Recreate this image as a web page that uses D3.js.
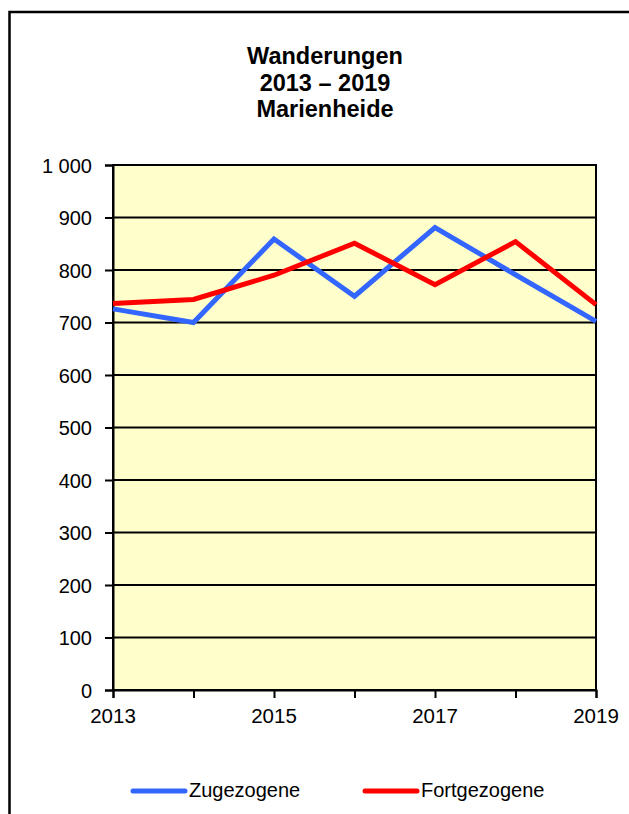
<!DOCTYPE html>
<html>
<head>
<meta charset="utf-8">
<script src="https://cdn.jsdelivr.net/npm/d3@7"></script>
<style>
  body { margin: 0; background: #fff; }
  text { font-family: "Liberation Sans", Arial, sans-serif; }
</style>
</head>
<body>
<div id="chart"></div>
<script>
// values
const years = [2013, 2014, 2015, 2016, 2017, 2018, 2019];
const zugezogene = [726, 700, 859, 750, 881, 791, 702];
const fortgezogene = [736, 744, 790, 851, 772, 854, 734];
const yTicks = [0, 100, 200, 300, 400, 500, 600, 700, 800, 900, 1000];
const xLabels = [2013, 2015, 2017, 2019];
const titleLines = ["Wanderungen", "2013 \u2013 2019", "Marienheide"];

const width = 629, height = 814;
const margin = {left: 113, right: 33, top: 165, bottom: 124};

let svg = d3.select("#chart").append("svg")
    .attr("width", width)
    .attr("height", height);

// outer frame (right and bottom run off the picture)
svg.append("rect")
    .attr("x", 9.5)
    .attr("y", 12)
    .attr("width", 640)
    .attr("height", 820)
    .attr("fill", "#fff")
    .attr("stroke", "#000")
    .attr("stroke-width", 2.5);

let x = d3.scaleLinear().domain([2013, 2019]).range([margin.left, width - margin.right]);
let y = d3.scaleLinear().domain([0, 1000]).range([height - margin.bottom, margin.top]);

// title
svg.append("g").selectAll("text")
    .data(titleLines)
    .enter()
    .append("text")
    .attr("x", 325)
    .attr("y", (d, i) => 64 + i * 26.5)
    .attr("text-anchor", "middle")
    .attr("font-size", 23.5)
    .attr("font-weight", "bold")
    .text(d => d);

// plot background
svg.append("rect")
    .attr("x", x(2013))
    .attr("y", y(1000))
    .attr("width", x(2019) - x(2013))
    .attr("height", y(0) - y(1000))
    .attr("fill", "#FFFFCC");

// gridlines
svg.append("g").selectAll("line")
    .data(yTicks.slice(1))
    .enter()
    .append("line")
    .attr("x1", x(2013))
    .attr("x2", x(2019))
    .attr("y1", d => y(d))
    .attr("y2", d => y(d))
    .attr("stroke", "#000")
    .attr("stroke-width", 2);

// plot border
svg.append("rect")
    .attr("x", x(2013))
    .attr("y", y(1000))
    .attr("width", x(2019) - x(2013))
    .attr("height", y(0) - y(1000))
    .attr("fill", "none")
    .attr("stroke", "#000")
    .attr("stroke-width", 2);

// y axis
let yAxis = svg.append("g")
    .attr("transform", "translate(" + x(2013) + ",0)")
    .call(d3.axisLeft(y).tickValues(yTicks).tickSize(8).tickPadding(13)
        .tickFormat(d => d3.format(",")(d).replace(",", " ")));
yAxis.select(".domain").attr("stroke-width", 2);
yAxis.selectAll(".tick line").attr("stroke-width", 2);
yAxis.selectAll("text").attr("font-size", 20).attr("fill", "#000")
    .attr("font-family", "Liberation Sans, Arial, sans-serif")
    .attr("dy", "0.36em");

// x axis
let xAxis = svg.append("g")
    .attr("transform", "translate(0," + y(0) + ")")
    .call(d3.axisBottom(x).tickValues(years).tickSize(8).tickFormat(""));
xAxis.select(".domain").attr("stroke-width", 2);
xAxis.selectAll(".tick line").attr("stroke-width", 2);

svg.append("g").selectAll("text")
    .data(xLabels)
    .enter()
    .append("text")
    .attr("x", d => x(d))
    .attr("y", y(0) + 33)
    .attr("text-anchor", "middle")
    .attr("font-size", 20.5)
    .text(d => d);

// lines
let line = d3.line()
    .x((d, i) => x(years[i]))
    .y(d => y(d));

svg.append("path")
    .datum(zugezogene)
    .attr("fill", "none")
    .attr("stroke", "#3366FF")
    .attr("stroke-width", 5)
    .attr("stroke-linejoin", "miter")
    .attr("d", line);

svg.append("path")
    .datum(fortgezogene)
    .attr("fill", "none")
    .attr("stroke", "#FF0000")
    .attr("stroke-width", 5)
    .attr("stroke-linejoin", "miter")
    .attr("d", line);

// legend
const legend = [
    {name: "Zugezogene", color: "#3366FF", x: 133},
    {name: "Fortgezogene", color: "#FF0000", x: 365}
];
let keyGroup = svg.append("g");
legend.forEach(function (k) {
    keyGroup.append("line")
        .attr("x1", k.x)
        .attr("x2", k.x + 52)
        .attr("y1", 791)
        .attr("y2", 791)
        .attr("stroke", k.color)
        .attr("stroke-width", 5)
        .attr("stroke-linecap", "round");
    keyGroup.append("text")
        .attr("x", k.x + 56)
        .attr("y", 797)
        .attr("font-size", 20)
        .text(k.name);
});
</script>
</body>
</html>
